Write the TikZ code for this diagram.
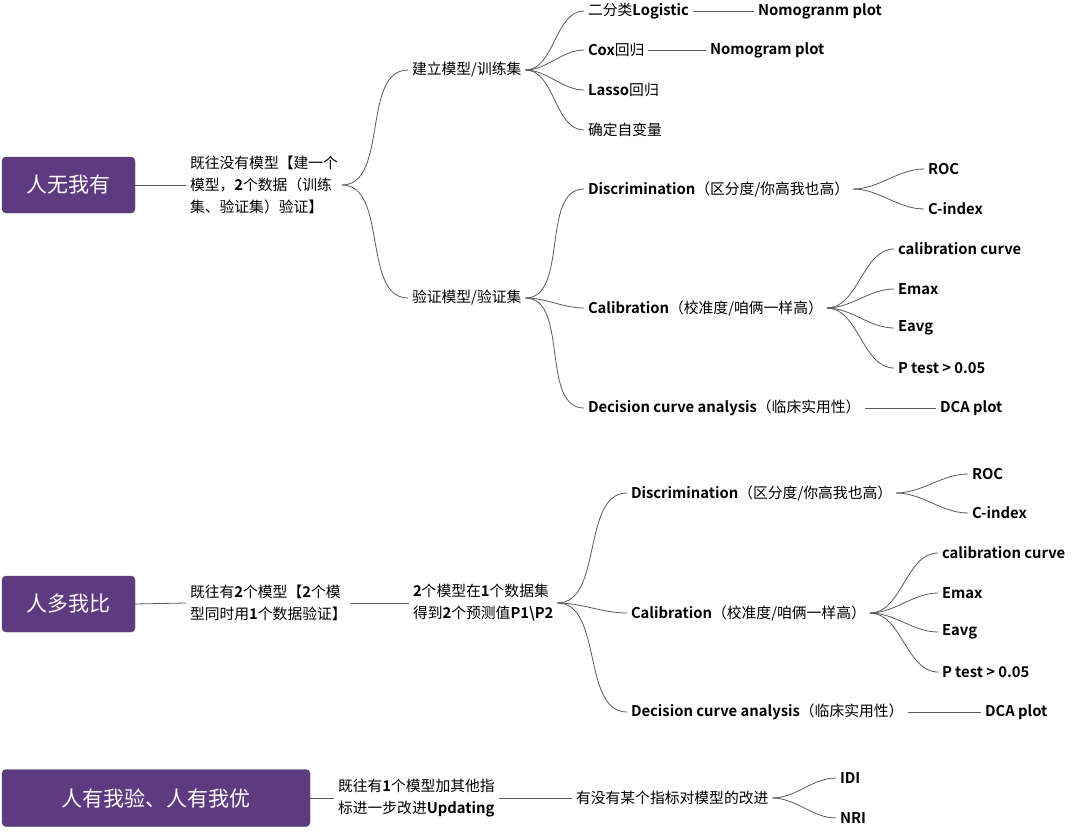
\documentclass[tikz,border=0pt]{standalone}
\usepackage{fontspec}
\setmainfont{Noto Sans CJK SC}[BoldFont={Noto Sans CJK SC Bold}]
\newcommand\B[1]{\textbf{#1}}
\begin{document}
\begin{tikzpicture}[x=1pt,y=-1pt,
  t/.style={anchor=west,inner sep=0pt,outer sep=4pt,xshift=-4pt,font=\fontsize{14.8}{22}\selectfont,align=left,text=black},
  root/.style={anchor=west,draw=black!70,fill=rootc,rounded corners=4pt,text=white,font=\fontsize{21}{24}\selectfont,inner sep=0pt,outer sep=0pt},
  ln/.style={draw=black!65,line width=0.8pt},
  br/.style={ln,out=0,in=180,looseness=0.9}]
\definecolor{rootc}{RGB}{94,58,128}
\useasboundingbox (0,0) rectangle (1080,833);
% ---------- tree 1
\node[root,minimum width=133,minimum height=56] (r1) at (2,185) {人无我有};
\node[t] (a1) at (190,185) {既往没有模型【建一个\\模型，\B{2}个数据（训练\\集、验证集）验证】};
\node[t] (b1) at (412,70) {建立模型/训练集};
\node[t] (b2) at (412,298) {验证模型/验证集};
\node[t] (c1) at (588,11) {二分类\B{Logistic}};
\node[t] (c2) at (588,50) {\B{Cox}回归};
\node[t] (c3) at (588,90) {\B{Lasso}回归};
\node[t] (c4) at (588,130) {确定自变量};
\node[t] (c1n) at (758,11) {\B{Nomogranm plot}};
\node[t] (c2n) at (710,50) {\B{Nomogram plot}};
\node[t] (d1) at (588,189) {\B{Discrimination}（区分度/你高我也高）};
\node[t] (d2) at (588,308) {\B{Calibration}（校准度/咱俩一样高）};
\node[t] (d3) at (588,408) {\B{Decision curve analysis}（临床实用性）};
\node[t] (e1) at (928,169) {\B{ROC}};
\node[t] (e2) at (928,209) {\B{C-index}};
\node[t] (f1) at (898,249) {\B{calibration curve}};
\node[t] (f2) at (898,289) {\B{Emax}};
\node[t] (f3) at (898,328) {\B{Eavg}};
\node[t] (f4) at (898,368) {\B{P test > 0.05}};
\node[t] (g1) at (940,408) {\B{DCA plot}};
\draw[ln] (r1.east) -- (a1.west);
\foreach \c in {b1,b2} \draw[br] (a1.east) to (\c.west);
\foreach \c in {c1,c2,c3,c4} \draw[br] (b1.east) to (\c.west);
\foreach \c in {d1,d2,d3} \draw[br] (b2.east) to (\c.west);
\foreach \c in {e1,e2} \draw[br] (d1.east) to (\c.west);
\foreach \c in {f1,f2,f3,f4} \draw[br] (d2.east) to (\c.west);
\draw[ln] (c1.east) -- (c1n.west);
\draw[ln] (c2.east) -- (c2n.west);
\draw[ln] (d3.east) -- (g1.west);
% ---------- tree 2
\node[root,minimum width=133,minimum height=56] (r2) at (2,604) {人多我比};
\node[t] (h1) at (190,603) {既往有\B{2}个模型【\B{2}个模\\型同时用\B{1}个数据验证】};
\node[t] (h2) at (413,603) {\B{2}个模型在\B{1}个数据集\\得到\B{2}个预测值\B{P1\textbackslash P2}};
\node[t] (i1) at (631,493) {\B{Discrimination}（区分度/你高我也高）};
\node[t] (i2) at (631,613) {\B{Calibration}（校准度/咱俩一样高）};
\node[t] (i3) at (631,712) {\B{Decision curve analysis}（临床实用性）};
\node[t] (j1) at (972,474) {\B{ROC}};
\node[t] (j2) at (972,513) {\B{C-index}};
\node[t] (k1) at (942,553) {\B{calibration curve}};
\node[t] (k2) at (942,593) {\B{Emax}};
\node[t] (k3) at (942,632) {\B{Eavg}};
\node[t] (k4) at (942,672) {\B{P test > 0.05}};
\node[t] (l1) at (985,712) {\B{DCA plot}};
\draw[ln] (r2.east) -- (h1.west);
\draw[ln] (h1.east) -- (h2.west);
\foreach \c in {i1,i2,i3} \draw[br] (h2.east) to (\c.west);
\foreach \c in {j1,j2} \draw[br] (i1.east) to (\c.west);
\foreach \c in {k1,k2,k3,k4} \draw[br] (i2.east) to (\c.west);
\draw[ln] (i3.east) -- (l1.west);
% ---------- tree 3
\node[root,minimum width=308,minimum height=57] (r3) at (2,798) {人有我验、人有我优};
\node[t] (m1) at (338,798) {既往有\B{1}个模型加其他指\\标进一步改进\B{Updating}};
\node[t] (m2) at (576,798) {有没有某个指标对模型的改进};
\node[t] (n1) at (840,778) {\B{IDI}};
\node[t] (n2) at (840,818) {\B{NRI}};
\draw[ln] (r3.east) -- (m1.west);
\draw[ln] (m1.east) -- (m2.west);
\foreach \c in {n1,n2} \draw[br] (m2.east) to (\c.west);
\end{tikzpicture}
\end{document}
